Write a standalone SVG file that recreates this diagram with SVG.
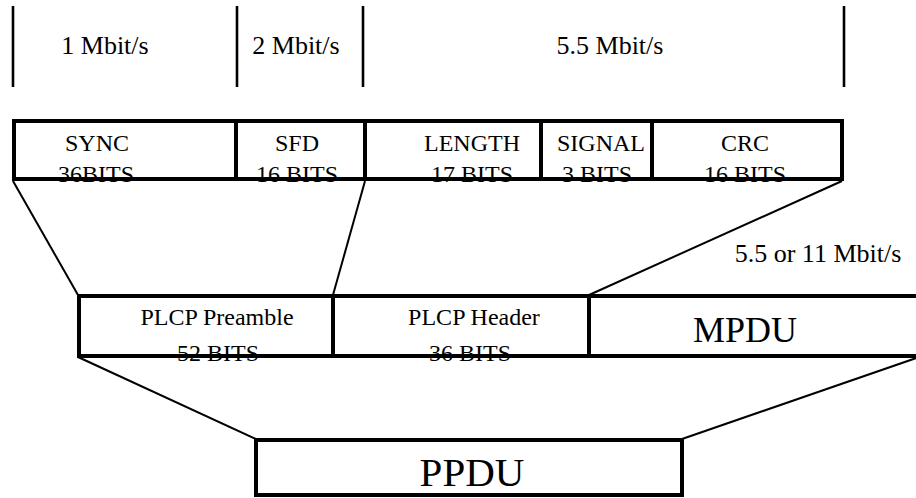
<svg xmlns="http://www.w3.org/2000/svg" width="916" height="498" viewBox="0 0 916 498" font-family="'Liberation Serif', 'DejaVu Serif', serif">
<style>
text{font-family:"Liberation Serif","DejaVu Serif",serif;fill:#000;text-anchor:middle}
.rt{font-size:26px}
.ft{font-size:24px}
.box{fill:#fff;stroke:#000;stroke-width:4}
.div{stroke:#000;stroke-width:4}
.con{stroke:#000;stroke-width:2;fill:none}
.rate{stroke:#000;stroke-width:2.6}
</style>
<rect width="916" height="498" fill="#fff"/>
<g id="connectors">
<line class="con" x1="13" y1="181" x2="78" y2="295"/>
<line class="con" x1="365" y1="181" x2="333" y2="295"/>
<line class="con" x1="842" y1="181" x2="589" y2="295"/>
<line class="con" x1="78" y1="357" x2="256" y2="439"/>
<line class="con" x1="925" y1="355" x2="682" y2="439"/>
</g>
<g id="rates">
<line class="rate" x1="13" y1="6" x2="13" y2="87"/>
<line class="rate" x1="237" y1="6" x2="237" y2="87"/>
<line class="rate" x1="363" y1="6" x2="363" y2="87"/>
<line class="rate" x1="844" y1="6" x2="844" y2="87"/>
<text class="rt" x="105" y="54">1 Mbit/s</text>
<text class="rt" x="296" y="54">2 Mbit/s</text>
<text class="rt" x="610" y="54">5.5 Mbit/s</text>
</g>
<g id="fields">
<rect class="box" x="14" y="121" width="828" height="58"/>
<line class="div" x1="236" y1="121" x2="236" y2="181"/>
<line class="div" x1="365" y1="121" x2="365" y2="181"/>
<line class="div" x1="541" y1="121" x2="541" y2="181"/>
<line class="div" x1="652" y1="121" x2="652" y2="181"/>
</g>
<g id="sync"><text class="ft" x="97" y="151">SYNC</text><text class="ft" x="96" y="182">36BITS</text></g>
<g id="sfd"><text class="ft" x="297" y="151">SFD</text><text class="ft" x="297" y="182">16 BITS</text></g>
<g id="length"><text class="ft" x="472" y="151">LENGTH</text><text class="ft" x="472" y="182">17 BITS</text></g>
<g id="signal"><text class="ft" x="601" y="151">SIGNAL</text><text class="ft" x="597" y="182">3 BITS</text></g>
<g id="crc"><text class="ft" x="745" y="151">CRC</text><text class="ft" x="745" y="182">16 BITS</text></g>
<text class="rt" x="818" y="262">5.5 or 11 Mbit/s</text>
<g id="middle">
<rect class="box" x="79" y="296" width="850" height="60"/>
<line class="div" x1="333" y1="296" x2="333" y2="358"/>
<line class="div" x1="589" y1="296" x2="589" y2="358"/>
</g>
<g id="preamble"><text class="ft" x="217" y="325">PLCP Preamble</text><text class="ft" x="218" y="361">52 BITS</text></g>
<g id="header"><text class="ft" x="474" y="325">PLCP Header</text><text class="ft" x="470" y="361">36 BITS</text></g>
<g id="mpdu"><text x="745" y="342" font-size="36">MPDU</text></g>
<g id="ppdu">
<rect class="box" x="256" y="440" width="426" height="55"/>
<text x="472" y="486" font-size="41">PPDU</text>
</g>
</svg>
